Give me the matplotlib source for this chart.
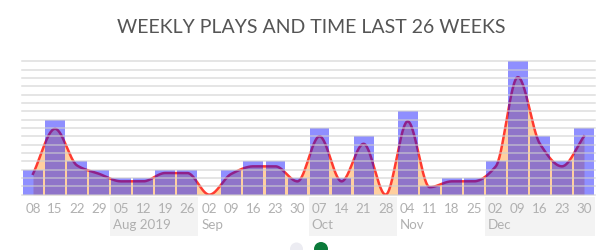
import numpy as np
import matplotlib
matplotlib.use("Agg")
import matplotlib.pyplot as plt
from matplotlib.patches import Rectangle, Ellipse
from matplotlib.transforms import blended_transform_factory

plt.rcParams['font.family'] = ['Lato', 'DejaVu Sans']

# weeks (day of month) and month labels
dager = ["08", "15", "22", "29", "05", "12", "19", "26", "02", "09", "16", "23", "30",
         "07", "14", "21", "28", "04", "11", "18", "25", "02", "09", "16", "23", "30"]
maaneder = [(4, 8, "Aug 2019"), (8, 13, "Sep"), (13, 17, "Oct"), (17, 21, "Nov"), (21, 26, "Dec")]

# plays per week (bars) and time per week (curve)
avspillinger = [3, 9, 4, 3, 2, 2, 3, 3, 0, 3, 4, 4, 2, 8, 2, 7, 0, 10, 1, 2, 2, 4, 16, 7, 4, 8]
tid = [2.5, 7.9, 3.5, 2.5, 1.6, 1.6, 2.6, 2.6, 0, 2.5, 3.4, 3.4, 1.6, 7.0, 1.6, 6.1, 0,
       8.8, 0.9, 1.6, 1.6, 3.4, 14.1, 6.1, 3.4, 7.0]


def monoton_kurve(y, n=30):
    # monotone cubic (Fritsch-Carlson) used for drawing the smooth line
    y = np.asarray(y, float)
    x = np.arange(len(y), dtype=float)
    d = np.diff(y)
    m = np.zeros(len(y))
    m[0], m[-1] = d[0], d[-1]
    for i in range(1, len(y) - 1):
        if d[i - 1] * d[i] > 0:
            m[i] = 2 / (1 / d[i - 1] + 1 / d[i])
    xs, ys = [], []
    for i in range(len(y) - 1):
        t = np.linspace(0, 1, n, endpoint=False)
        h00 = 2 * t**3 - 3 * t**2 + 1
        h10 = t**3 - 2 * t**2 + t
        h01 = -2 * t**3 + 3 * t**2
        h11 = t**3 - t**2
        xs.append(x[i] + t)
        ys.append(h00 * y[i] + h10 * m[i] + h01 * y[i + 1] + h11 * m[i + 1])
    xs.append([x[-1]])
    ys.append([y[-1]])
    return np.concatenate(xs), np.concatenate(ys)


fig = plt.figure(figsize=(6.16, 2.51), dpi=100)
ax = fig.add_axes([22 / 616, 55.3 / 251, 573 / 616, 133.4 / 251])
ax.set_xlim(-0.5, 25.5)
ax.set_ylim(0, 16)
for s in ax.spines.values():
    s.set_visible(False)
ax.set_xticks([])
ax.set_yticks([])

x = np.arange(len(avspillinger))
kx, ky = monoton_kurve(tid)
ax.fill_between(kx, 0, ky, color="#ffcf9f", lw=0, zorder=1)
ax.plot(kx, ky, color="#ff3b30", lw=1.8, zorder=2)
ax.bar(x, avspillinger, width=0.9, color=(0, 0, 1, 0.44), lw=0, zorder=3)

for g in range(17):
    ax.axhline(g, color="#cfcfcf", lw=1.1, alpha=0.7, zorder=4, clip_on=False)

trans = blended_transform_factory(ax.transData, ax.transAxes)
for i, (a, b, navn) in enumerate(maaneder):
    if i % 2 == 0:
        ax.add_patch(Rectangle((a - 0.5, -0.31), b - a, 0.295, transform=trans,
                               color="#f3f3f3", lw=0, clip_on=False, zorder=0))
    ax.text(a - 0.37, -0.22, navn, transform=trans, ha="left", va="center",
            fontsize=9.6, color="#b0b0b0")
for i, d in enumerate(dager):
    ax.text(i, -0.10, d, transform=trans, ha="center", va="center",
            fontsize=9.6, color="#b0b0b0")

fig.text(0.505, 0.89, "WEEKLY PLAYS AND TIME LAST 26 WEEKS", ha="center", va="center",
         fontsize=14, color="#555555")

fig.patches.append(Ellipse((296.5 / 616, 1 / 251), 13 / 616, 13 / 251,
                           transform=fig.transFigure, color="#ececf2", lw=0))
fig.patches.append(Ellipse((321 / 616, 1 / 251), 14 / 616, 14 / 251,
                           transform=fig.transFigure, color="#0b7a3a", lw=0))

fig.savefig("out.png", dpi=100)
